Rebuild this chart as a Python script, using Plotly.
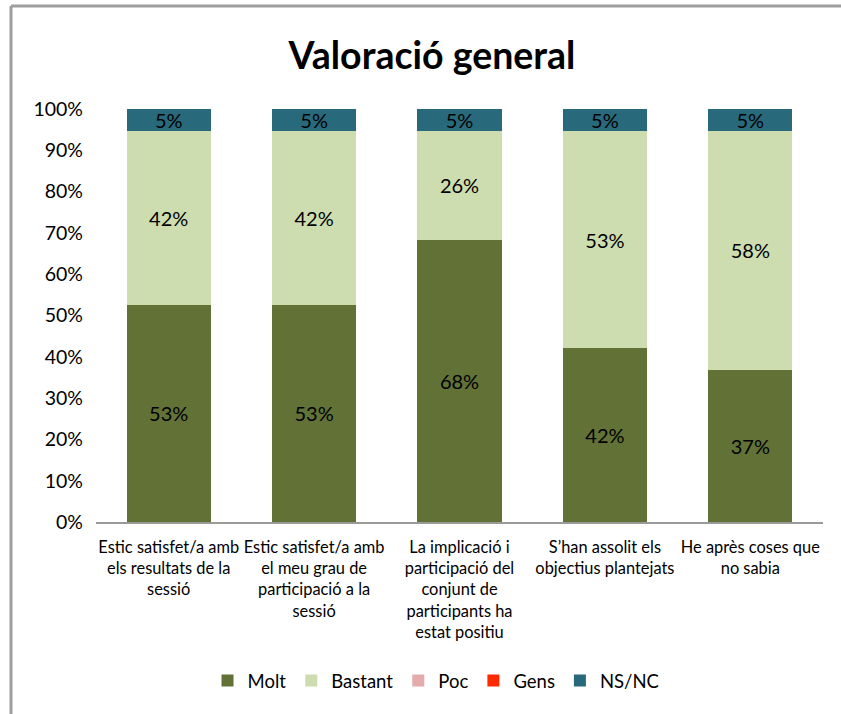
import plotly.graph_objects as go

categories = [
    "Estic satisfet/a amb<br>els resultats de la<br>sessió",
    "Estic satisfet/a amb<br>el meu grau de<br>participació a la<br>sessió",
    "La implicació i<br>participació del<br>conjunt de<br>participants ha<br>estat positiu",
    "S’han assolit els<br>objectius plantejats",
    "He après coses que<br>no sabia",
]
molt = [52.6, 52.6, 68.4, 42.1, 36.8]
bastant = [42.1, 42.1, 26.3, 52.6, 57.9]
poc = [0, 0, 0, 0, 0]
gens = [0, 0, 0, 0, 0]
nsnc = [5.3, 5.3, 5.3, 5.3, 5.3]
y_ticks = [0, 10, 20, 30, 40, 50, 60, 70, 80, 90, 100]
y_tick_labels = [f"{v}%" for v in y_ticks]

series = [
    ("Molt", molt, "#627237", True),
    ("Bastant", bastant, "#CEDDAF", True),
    ("Poc", poc, "#E4ABAA", False),
    ("Gens", gens, "#FF2A00", False),
    ("NS/NC", nsnc, "#286A7B", True),
]

FONT = "Lato"
fig = go.Figure()
for name, vals, color, show in series:
    fig.add_trace(go.Bar(
        name=name, x=categories, y=vals,
        marker=dict(color=color, line=dict(width=0)),
        texttemplate="%{y:.0f}%" if show else None,
        textposition="inside" if show else "none",
        insidetextanchor="middle",
        textangle=0,
        textfont=dict(family=FONT, size=20, color="#000000"),
        constraintext="none",
    ))

W, H = 841, 714
L, R, T, B = 96, 18, 109, 192
pw, ph = W - L - R, H - T - B

def px(x):
    return (x - L) / pw

def py(y):
    return (H - B - y) / ph

fig.update_layout(
    barmode="stack",
    bargap=0.42,
    width=W, height=H,
    margin=dict(l=L, r=R, t=T, b=B, autoexpand=False),
    paper_bgcolor="white", plot_bgcolor="white",
    font=dict(family=FONT, color="#000000"),
    title=dict(text="<b>Valoració general</b>", x=px(432), xref="paper", xanchor="center",
               y=1 - 56 / H, yanchor="middle", font=dict(family=FONT, size=37.5, color="#000000")),
    showlegend=True,
    legend=dict(orientation="h", x=px(436), xanchor="center", y=py(681), yanchor="middle",
                font=dict(family=FONT, size=18.5, color="#000000"), itemwidth=30,
                traceorder="normal"),
    uniformtext=dict(mode=False),
)
fig.update_yaxes(range=[0, 100], tickvals=y_ticks, ticktext=y_tick_labels,
                 showgrid=False, zeroline=False, showline=False,
                 tickfont=dict(family=FONT, size=19.5, color="#000000"),
                 ticklabelstandoff=12, fixedrange=True)
fig.update_xaxes(showline=True, linecolor="#9A9A9A", linewidth=2, ticks="",
                 tickfont=dict(family=FONT, size=16.4, color="#000000"), tickangle=0,
                 ticklabelstandoff=9, fixedrange=True)

# outer frame (top and left edges visible)
fig.add_shape(type="line", xref="paper", yref="paper",
              x0=px(11), x1=px(W + 5), y0=py(6), y1=py(6),
              line=dict(color="#9E9E9E", width=3))
fig.add_shape(type="line", xref="paper", yref="paper",
              x0=px(11), x1=px(11), y0=py(6), y1=py(H + 5),
              line=dict(color="#9E9E9E", width=3))

fig.write_html("out.html", config={"displayModeBar": False},
               post_script="document.body.style.margin='0';document.body.style.overflow='hidden';")
